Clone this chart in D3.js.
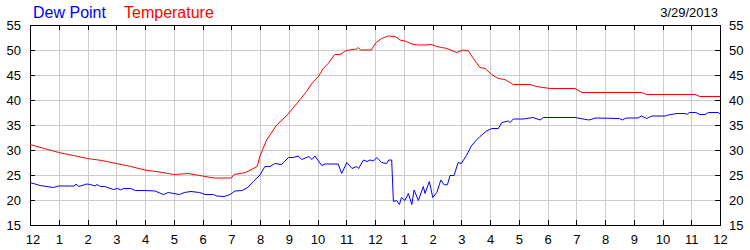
<!DOCTYPE html>
<html><head><meta charset="utf-8">
<script src="https://cdn.jsdelivr.net/npm/d3@7"></script>
<style>
html,body{margin:0;padding:0;background:#fff;}
svg{display:block;font-family:"Liberation Sans",Arial,sans-serif;}
</style></head>
<body><svg id="c" width="750" height="250"></svg>
<script>
// Hours since midnight (0..24)
const tempHours = [0,0.5,1,1.5,2,2.5,3,3.5,4,4.5,5,5.5,6,6.4,7.0,7.1,7.5,7.9,8.0,8.23,8.58,8.93,9.28,9.62,9.8,10.03,10.2,10.37,10.6,10.78,11.0,11.36,11.42,11.5,11.87,12.04,12.23,12.46,12.7,12.87,13.04,13.28,13.51,13.74,13.97,14.15,14.33,14.5,14.84,15.07,15.25,15.42,15.65,15.83,16.06,16.29,16.52,16.81,17.39,17.62,18.09,18.96,19.2,21.27,21.45,23.13,23.3,24];
const tempValues = [31.1,30.3,29.5,28.9,28.3,27.9,27.3,26.7,26.0,25.6,25.1,25.3,24.8,24.4,24.4,25.1,25.5,26.7,28.8,32,35,36.9,39.3,41.7,43.3,44.7,46.3,47.3,49.1,49.1,49.9,50.2,50.5,50.0,50.0,51.5,52.3,52.8,52.7,52.0,51.8,51.2,51.0,51.0,51.1,50.7,50.5,50.3,49.5,50.0,49.8,48.3,46.5,46.3,45.1,44.3,44.1,43.1,43.1,42.7,42.3,42.3,41.5,41.5,41.1,41.1,40.7,40.7];

const dewHours = [0,0.35,0.81,1,1.55,1.6,1.7,1.97,2.1,2.26,2.33,2.45,2.6,2.9,3.05,3.15,3.25,3.5,3.67,4.0,4.35,4.64,4.81,5.2,5.37,5.6,5.9,6.09,6.38,6.5,6.75,6.96,7.13,7.37,7.55,7.77,8.0,8.17,8.35,8.52,8.75,8.99,9.15,9.33,9.45,9.7,9.81,9.91,10.15,10.27,10.72,10.84,11.02,11.2,11.37,11.43,11.6,11.72,11.83,11.95,12.06,12.23,12.4,12.48,12.58,12.64,12.75,12.85,12.92,13.04,13.16,13.28,13.36,13.51,13.68,13.74,13.89,14.01,14.15,14.29,14.41,14.52,14.61,14.75,14.89,15.0,15.18,15.36,15.53,15.65,15.88,16.06,16.29,16.41,16.64,16.7,16.81,17.16,17.5,17.74,17.86,18.96,19.44,19.68,20.5,20.61,20.73,21.15,21.27,21.45,21.63,22.1,22.2,22.5,22.79,22.85,22.93,23.16,23.3,23.48,23.6,23.94,24];
const dewValues = [23.5,22.9,22.5,22.8,22.8,23.2,22.7,23.2,23.1,22.8,23.1,22.7,22.7,22.1,22.3,22.0,22.3,22.3,21.9,21.9,21.8,21.1,21.5,21.1,21.5,21.7,21.5,21.1,21.1,20.8,20.7,21.1,21.8,21.9,22.4,23.7,25.0,26.7,26.7,27.3,27.1,28.5,28.5,28.8,28.1,28.7,28.1,28.8,26.9,27.2,27.2,25.3,27.5,26.3,26.7,26.3,28.0,27.7,28.0,27.8,28.5,27.5,27.3,28.0,28.0,19.7,19.9,19.1,20.5,19.9,21.3,19.1,22.0,19.9,22.7,21.3,23.7,20.5,21.5,24.0,23.0,23.1,24.9,24.9,27.5,27.3,28.9,30.9,32.0,32.7,33.8,34.3,34.3,35.5,35.8,35.5,36.2,36.2,36.5,36.0,36.5,36.5,36.0,36.4,36.3,36.0,36.4,36.4,36.8,36.3,36.8,36.8,37.0,37.3,37.3,37.1,37.5,37.5,37.1,37.1,37.5,37.5,37.2];

const xTickHours = [0,1,2,3,4,5,6,7,8,9,10,11,12,13,14,15,16,17,18,19,20,21,22,23,24];
const xTickLabels = ["12","1","2","3","4","5","6","7","8","9","10","11","12","1","2","3","4","5","6","7","8","9","10","11","12"];
const yTicks = [15,20,25,30,35,40,45,50,55];
const seriesNames = ["Dew Point","Temperature"];
const dateLabel = "3/29/2013";

const L=30, R=720, T=25, B=225;
const svg = d3.select("#c");
const x = d3.scaleLinear().domain([0,24]).range([L,R]);
const y = d3.scaleLinear().domain([15,55]).range([B,T]);

// grid
const g = svg.append("g");
g.selectAll(".vg").data(xTickHours.slice(1,-1)).enter().append("line")
  .attr("x1",d=>Math.round(x(d))+0.5).attr("x2",d=>Math.round(x(d))+0.5)
  .attr("y1",T).attr("y2",B).attr("stroke","#cccccc").attr("stroke-width",1);
g.selectAll(".hg").data(yTicks.slice(1,-1)).enter().append("line")
  .attr("y1",d=>Math.round(y(d))+0.5).attr("y2",d=>Math.round(y(d))+0.5)
  .attr("x1",L).attr("x2",R).attr("stroke","#cccccc").attr("stroke-width",1);

// axes (ticks inside)
const fmt = d=>xTickLabels[xTickHours.indexOf(d)];
const axB = d3.axisBottom(x).tickValues(xTickHours).tickFormat(fmt).tickSizeInner(-5).tickSizeOuter(0).tickPadding(10);
const axT = d3.axisTop(x).tickValues(xTickHours).tickFormat("").tickSizeInner(-5).tickSizeOuter(0);
const axL = d3.axisLeft(y).tickValues(yTicks).tickSizeInner(-5).tickSizeOuter(0).tickPadding(9);
const axR = d3.axisRight(y).tickValues(yTicks).tickSizeInner(-5).tickSizeOuter(0).tickPadding(9);

function style(sel){
  sel.selectAll("path").attr("stroke","#000").attr("shape-rendering","crispEdges");
  sel.selectAll("line").attr("stroke","#000").attr("shape-rendering","crispEdges");
  sel.selectAll("text").attr("fill","#000").style("font-size","13px").style("font-family",'"Liberation Sans",Arial,sans-serif');
}
const gB = svg.append("g").attr("transform",`translate(0,${B})`).call(axB);
style(gB);
gB.selectAll(".tick text").filter(d=>d===0).attr("dx",2.5);
style(svg.append("g").attr("transform",`translate(0,${T})`).call(axT));
style(svg.append("g").attr("transform",`translate(${L},0)`).call(axL));
style(svg.append("g").attr("transform",`translate(${R},0)`).call(axR));

// lines
const line = d3.line().x(d=>x(d[0])).y(d=>y(d[1]));
svg.append("path").datum(tempHours.map((h,i)=>[h,tempValues[i]]))
  .attr("d",line).attr("fill","none").attr("stroke","#ff0000").attr("stroke-width",1);
svg.append("path").datum(dewHours.map((h,i)=>[h,dewValues[i]]))
  .attr("d",line).attr("fill","none").attr("stroke","#0000ff").attr("stroke-width",1);

// legend
svg.append("text").attr("x",33).attr("y",18).attr("fill","#0000ff").style("font-size","16px").text(seriesNames[0]);
svg.append("text").attr("x",124).attr("y",18).attr("fill","#ff0000").style("font-size","16px").text(seriesNames[1]);
svg.append("text").attr("x",718).attr("y",17).attr("text-anchor","end").attr("fill","#000").style("font-size","13px").text(dateLabel);
</script>
</body></html>
